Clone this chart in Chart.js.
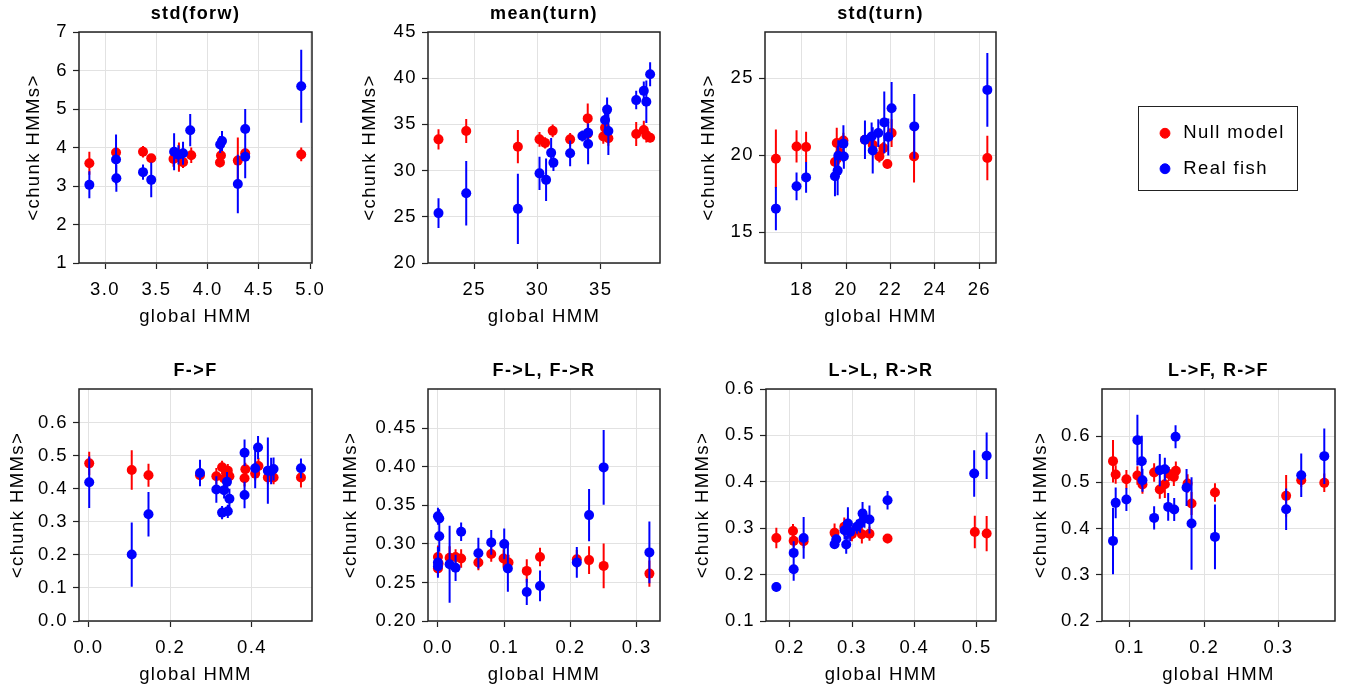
<!DOCTYPE html>
<html>
<head>
<meta charset="utf-8">
<title>chunk HMMs vs global HMM</title>
<script src="https://cdn.jsdelivr.net/npm/chart.js@4/dist/chart.umd.min.js"></script>
<style>
  html, body { margin: 0; padding: 0; background: #fff; overflow: hidden; }
  #fig { position: relative; width: 1351px; height: 694px; }
  #fig canvas { position: absolute; }
  #legendBox { position: absolute; left: 1138px; top: 106px; width: 160px; height: 85px;
               box-sizing: border-box; border: 1.5px solid #222; }
  #legendBox canvas { left: 0; top: 0; }
</style>
</head>
<body>
<div id="fig">
  <div id="legendBox"><canvas id="legend" width="157" height="120"></canvas></div>
</div>
<script>
// rows are [global HMM, <chunk HMMs>, error]
const stdForwNull = [[2.847,3.59,0.30],[3.107,3.87,0.10],[3.37,3.89,0.15],[3.45,3.72,0.10],[3.667,3.70,0.20],
  [3.72,3.75,0.38],[3.76,3.62,0.15],[3.84,3.80,0.20],[4.12,3.61,0.12],[4.13,3.79,0.12],[4.294,3.66,0.60],
  [4.366,3.85,0.12],[4.912,3.82,0.18]];
const stdForwFish = [[2.847,3.03,0.35],[3.107,3.69,0.65],[3.11,3.20,0.35],[3.37,3.36,0.20],[3.45,3.16,0.45],
  [3.673,3.89,0.48],[3.715,3.81,0.25],[3.76,3.85,0.30],[3.83,4.45,0.42],[4.122,4.08,0.22],[4.14,4.17,0.26],
  [4.294,3.05,0.76],[4.366,4.48,0.52],[4.366,3.76,0.56],[4.912,5.59,0.95]];

const meanTurnNull = [[22.18,33.38,1.1],[24.37,34.28,1.3],[28.45,32.59,1.8],[30.16,33.38,0.8],[30.6,33.0,0.6],
  [31.2,34.3,0.7],[32.58,33.38,0.7],[33.97,35.65,1.6],[33.97,34.0,0.8],[35.2,33.7,0.8],[35.34,34.64,0.9],
  [35.6,33.5,0.8],[37.8,33.96,1.3],[38.4,34.4,1.0],[38.6,33.85,0.8],[38.9,33.56,0.5]];
const meanTurnFish = [[22.18,25.4,1.6],[24.37,27.55,3.5],[28.45,25.86,3.8],[30.16,29.7,1.8],[30.68,29.0,2.3],
  [31.08,31.94,1.6],[31.26,30.86,0.9],[32.58,31.87,1.4],[33.55,33.74,0.6],[34.0,34.1,1.0],[34.0,32.88,2.2],
  [35.34,35.47,1.0],[35.5,36.6,1.3],[35.6,34.28,2.6],[37.8,37.63,1.0],[38.4,38.63,1.0],[38.6,37.45,2.3],
  [38.9,40.43,1.3]];

const stdTurnNull = [[16.84,19.77,1.9],[17.77,20.57,1.05],[18.2,20.53,1.0],[19.5,19.56,0.4],[19.58,20.79,1.0],
  [19.73,20.14,0.6],[19.88,20.96,0.5],[20.85,21.0,0.3],[21.2,20.68,0.4],[21.5,19.92,0.4],[21.68,20.46,0.4],
  [21.86,19.43,0.3],[22.05,21.44,0.9],[23.06,19.92,1.7],[26.36,19.82,1.45]];
const stdTurnFish = [[16.84,16.53,1.4],[17.77,17.98,0.9],[18.2,18.56,1.0],[19.5,18.63,1.3],[19.62,19.0,1.6],
  [19.65,19.97,1.0],[19.9,19.92,0.8],[19.88,20.75,1.2],[20.85,21.0,1.25],[21.15,21.22,0.9],[21.2,20.31,1.5],
  [21.45,21.44,0.9],[21.72,22.13,2.0],[21.9,21.18,1.2],[22.05,23.05,1.7],[23.07,21.87,2.1],[26.36,24.24,2.4]];

const ffNull = [[0.002,0.477,0.035],[0.106,0.457,0.06],[0.147,0.441,0.035],[0.273,0.441,0.02],[0.313,0.438,0.025],
  [0.327,0.465,0.02],[0.332,0.431,0.02],[0.341,0.455,0.02],[0.345,0.438,0.02],[0.382,0.432,0.025],
  [0.384,0.459,0.02],[0.408,0.446,0.02],[0.416,0.469,0.025],[0.439,0.434,0.02],[0.453,0.434,0.02],[0.52,0.434,0.03]];
const ffFish = [[0.002,0.42,0.078],[0.106,0.201,0.097],[0.147,0.323,0.067],[0.273,0.448,0.04],[0.313,0.398,0.04],
  [0.327,0.328,0.02],[0.332,0.396,0.025],[0.339,0.421,0.03],[0.341,0.332,0.02],[0.345,0.37,0.03],
  [0.382,0.509,0.04],[0.382,0.381,0.04],[0.408,0.462,0.06],[0.415,0.525,0.035],[0.439,0.455,0.1],
  [0.447,0.454,0.04],[0.453,0.46,0.035],[0.52,0.462,0.03]];

const flNull = [[0.0,0.283,0.015],[0.0,0.268,0.01],[0.001,0.2745,0.01],[0.0176,0.282,0.015],[0.0266,0.283,0.01],
  [0.035,0.281,0.012],[0.061,0.276,0.01],[0.0804,0.287,0.01],[0.099,0.281,0.012],[0.1065,0.276,0.01],
  [0.134,0.265,0.015],[0.154,0.283,0.012],[0.2095,0.28,0.012],[0.228,0.279,0.018],[0.25,0.2715,0.029],
  [0.319,0.2615,0.017]];
const flFish = [[0.0,0.336,0.011],[0.002,0.333,0.012],[0.002,0.31,0.02],[0.0,0.276,0.02],[0.0,0.271,0.015],
  [0.0176,0.2737,0.05],[0.0266,0.269,0.017],[0.035,0.3157,0.012],[0.061,0.288,0.02],[0.0804,0.302,0.016],
  [0.1,0.3,0.02],[0.1055,0.268,0.03],[0.134,0.2377,0.017],[0.154,0.2455,0.02],[0.2095,0.276,0.02],
  [0.228,0.3374,0.034],[0.25,0.3993,0.0485],[0.319,0.289,0.04]];

const llNull = [[0.1786,0.279,0.022],[0.2053,0.294,0.015],[0.2064,0.2727,0.015],[0.2224,0.272,0.015],
  [0.272,0.29,0.02],[0.2876,0.303,0.02],[0.2998,0.287,0.015],[0.3158,0.287,0.02],[0.328,0.288,0.015],
  [0.357,0.2777,0.01],[0.497,0.292,0.035],[0.516,0.2885,0.038]];
const llFish = [[0.1786,0.1734,0.01],[0.2064,0.2468,0.025],[0.2064,0.2115,0.025],[0.2224,0.279,0.045],
  [0.272,0.2655,0.01],[0.2747,0.276,0.01],[0.2907,0.265,0.02],[0.288,0.2957,0.02],[0.2934,0.31,0.035],
  [0.297,0.292,0.02],[0.3078,0.303,0.015],[0.313,0.31,0.02],[0.3169,0.3317,0.025],[0.32,0.3209,0.02],
  [0.328,0.3187,0.03],[0.357,0.3604,0.02],[0.496,0.418,0.05],[0.516,0.456,0.05]];

const lfNull = [[0.0775,0.5459,0.046],[0.0811,0.517,0.02],[0.0955,0.5069,0.02],[0.1103,0.5148,0.02],
  [0.1171,0.4953,0.02],[0.1328,0.5213,0.02],[0.1404,0.4845,0.02],[0.1472,0.496,0.03],[0.1526,0.518,0.015],
  [0.1593,0.5119,0.02],[0.162,0.525,0.02],[0.1778,0.4975,0.02],[0.1831,0.4542,0.025],[0.2146,0.478,0.02],
  [0.3103,0.4708,0.045],[0.3306,0.5047,0.015],[0.3616,0.4989,0.02]];
const lfFish = [[0.0775,0.3733,0.072],[0.0811,0.4556,0.033],[0.0955,0.4628,0.025],[0.1103,0.5913,0.055],
  [0.1162,0.5458,0.055],[0.1171,0.5047,0.025],[0.1328,0.4231,0.025],[0.1404,0.5264,0.035],[0.1472,0.5285,0.025],
  [0.1517,0.4469,0.03],[0.1598,0.4412,0.025],[0.1616,0.5986,0.025],[0.1764,0.4888,0.04],[0.1831,0.4108,0.1],
  [0.2146,0.382,0.07],[0.3103,0.4419,0.045],[0.3306,0.5155,0.047],[0.3616,0.5567,0.06]];

const panelTitles = ['std(forw)', 'mean(turn)', 'std(turn)', 'F->F', 'F->L, F->R', 'L->L, R->R', 'L->F, R->F'];
const nullSeries = [stdForwNull, meanTurnNull, stdTurnNull, ffNull, flNull, llNull, lfNull];
const fishSeries = [stdForwFish, meanTurnFish, stdTurnFish, ffFish, flFish, llFish, lfFish];

const xLimits = [[2.746, 5.017], [21.35, 39.68], [16.35, 26.75], [-0.023, 0.547], [-0.015, 0.335], [0.162, 0.531], [0.0627, 0.376]];
const yLimits = [[1, 7], [20, 45], [13, 28], [0, 0.702], [0.2, 0.501], [0.1, 0.6], [0.2, 0.702]];
const xTicks = [[3.0, 3.5, 4.0, 4.5, 5.0], [25, 30, 35], [18, 20, 22, 24, 26], [0.0, 0.2, 0.4],
  [0.0, 0.1, 0.2, 0.3], [0.2, 0.3, 0.4, 0.5], [0.1, 0.2, 0.3]];
const yTicks = [[1, 2, 3, 4, 5, 6, 7], [20, 25, 30, 35, 40, 45], [15, 20, 25], [0.0, 0.1, 0.2, 0.3, 0.4, 0.5, 0.6],
  [0.20, 0.25, 0.30, 0.35, 0.40, 0.45], [0.1, 0.2, 0.3, 0.4, 0.5, 0.6], [0.2, 0.3, 0.4, 0.5, 0.6]];
const xDecimals = [1, 0, 0, 1, 1, 1, 1];
const yDecimals = [0, 0, 0, 1, 2, 1, 1];
const xLabel = 'global HMM';
const yLabel = '<chunk HMMs>';
const seriesNames = ['Null model', 'Real fish'];
const seriesColors = ['#ff0000', '#0000ff'];

// page layout: plot box [left, top, right, bottom], width of the y axis block, room on the right
const boxes = [[79, 32, 312, 263], [428, 32, 660, 263], [765, 32, 996, 263],
               [79, 389, 312, 621], [428, 389, 660, 621], [766, 389, 996, 621], [1102, 389, 1335, 621]];
const yAxisW = [56, 69, 67, 72, 88, 74, 72];
const rightPad = [26, 26, 26, 26, 26, 26, 16];
const TITLE_H = 31, XAXIS_H = 65;

Chart.defaults.font.family = "'Liberation Sans', Arial, Helvetica, sans-serif";
Chart.defaults.font.size = 18.5;
Chart.defaults.color = '#000';

// the text in this figure is set a little wider than the plain font
Chart.register({
  id: 'spacing',
  beforeUpdate(chart) { chart.ctx.letterSpacing = '1.4px'; },
  beforeDraw(chart) { chart.ctx.letterSpacing = '1.4px'; }
});

// black box around each plot area
const frame = {
  id: 'frame',
  afterDatasetsDraw(chart) {
    const { ctx, chartArea: a } = chart;
    ctx.save();
    ctx.strokeStyle = '#222';
    ctx.lineWidth = 1.5;
    ctx.strokeRect(a.left, a.top, a.right - a.left, a.bottom - a.top);
    ctx.restore();
  }
};

// vertical error bars: one segment per row, broken by a null point
function bars(rows) {
  const out = [];
  rows.forEach(([x, y, e]) => {
    out.push({ x: x, y: y - e }, { x: x, y: y + e }, { x: x, y: null });
  });
  return out;
}
function dots(rows) {
  return rows.map(([x, y]) => ({ x: x, y: y }));
}

function makePanel(i) {
  const [L, T, R, B] = boxes[i];
  const cv = document.createElement('canvas');
  const w = yAxisW[i] + (R - L) + rightPad[i];
  const h = TITLE_H + (B - T) + XAXIS_H;
  cv.width = w;
  cv.height = h;
  cv.style.left = (L - yAxisW[i]) + 'px';
  cv.style.top = (T - TITLE_H) + 'px';
  document.getElementById('fig').appendChild(cv);

  const grid = { color: '#e2e2e2', lineWidth: 1, tickLength: 6, tickColor: '#222', tickWidth: 1.2 };
  const series = [nullSeries[i], fishSeries[i]];

  new Chart(cv, {
    type: 'scatter',
    data: {
      datasets: [
        { data: dots(series[1]), backgroundColor: seriesColors[1], borderWidth: 0, pointRadius: 5, order: 0 },
        { data: bars(series[1]), showLine: true, spanGaps: false, borderColor: seriesColors[1], borderWidth: 2, pointRadius: 0, order: 1 },
        { data: dots(series[0]), backgroundColor: seriesColors[0], borderWidth: 0, pointRadius: 5, order: 2 },
        { data: bars(series[0]), showLine: true, spanGaps: false, borderColor: seriesColors[0], borderWidth: 2, pointRadius: 0, order: 3 }
      ]
    },
    options: {
      responsive: false,
      animation: false,
      events: [],
      layout: { padding: { left: 0, top: 0, bottom: 0, right: rightPad[i] } },
      plugins: {
        legend: { display: false },
        tooltip: { enabled: false },
        title: {
          display: true, text: panelTitles[i], fullSize: false,
          font: { size: 18, weight: 'bold' }, color: '#000',
          padding: { top: 2.4, bottom: 7 }
        }
      },
      scales: {
        x: {
          type: 'linear', min: xLimits[i][0], max: xLimits[i][1],
          afterBuildTicks: s => { s.ticks = xTicks[i].map(v => ({ value: v })); },
          afterFit: s => { s.height = XAXIS_H; },
          ticks: { callback: v => v.toFixed(xDecimals[i]), padding: 10, maxRotation: 0, autoSkip: false },
          grid: grid,
          border: { display: false },
          title: { display: true, text: xLabel, padding: 0 }
        },
        y: {
          type: 'linear', min: yLimits[i][0], max: yLimits[i][1],
          afterBuildTicks: s => { s.ticks = yTicks[i].map(v => ({ value: v })); },
          afterFit: s => { s.width = yAxisW[i]; },
          ticks: { callback: v => v.toFixed(yDecimals[i]), padding: 5, autoSkip: false },
          grid: grid,
          border: { display: false },
          title: { display: true, text: yLabel, padding: 0 }
        }
      }
    },
    plugins: [frame]
  });
}

for (let i = 0; i < panelTitles.length; i++) makePanel(i);

// legend
new Chart(document.getElementById('legend'), {
  type: 'scatter',
  data: {
    datasets: seriesNames.map((n, k) => ({
      label: n, data: [], backgroundColor: seriesColors[k], borderColor: seriesColors[k], pointStyle: 'circle'
    }))
  },
  options: {
    responsive: false,
    animation: false,
    events: [],
    layout: { padding: 0 },
    scales: { x: { display: false }, y: { display: false } },
    plugins: {
      tooltip: { enabled: false },
      legend: {
        position: 'top', align: 'start', maxHeight: 110,
        labels: { usePointStyle: true, boxWidth: 18, boxHeight: 7, padding: 17, font: { size: 18.5 }, color: '#000' }
      }
    }
  }
});
</script>
</body>
</html>
